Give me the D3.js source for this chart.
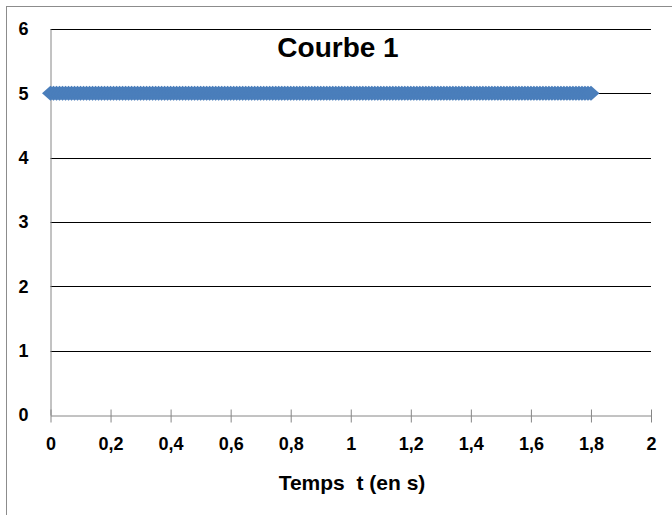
<!DOCTYPE html>
<meta charset="utf-8">
<head>
  <title>Courbe 1</title>
  <script src="https://d3js.org/d3.v7.min.js"></script>
  <style>
    body { margin: 0; background: #fff; }
    text { font-family: "Liberation Sans", Arial, sans-serif; font-weight: bold; fill: #000; }
  </style>
</head>
<body>
<div id="display"></div>
<script>

// time values (s)
var times = [
  0, 0.01, 0.02, 0.03, 0.04, 0.05, 0.06, 0.07, 0.08, 0.09,
  0.1, 0.11, 0.12, 0.13, 0.14, 0.15, 0.16, 0.17, 0.18, 0.19,
  0.2, 0.21, 0.22, 0.23, 0.24, 0.25, 0.26, 0.27, 0.28, 0.29,
  0.3, 0.31, 0.32, 0.33, 0.34, 0.35, 0.36, 0.37, 0.38, 0.39,
  0.4, 0.41, 0.42, 0.43, 0.44, 0.45, 0.46, 0.47, 0.48, 0.49,
  0.5, 0.51, 0.52, 0.53, 0.54, 0.55, 0.56, 0.57, 0.58, 0.59,
  0.6, 0.61, 0.62, 0.63, 0.64, 0.65, 0.66, 0.67, 0.68, 0.69,
  0.7, 0.71, 0.72, 0.73, 0.74, 0.75, 0.76, 0.77, 0.78, 0.79,
  0.8, 0.81, 0.82, 0.83, 0.84, 0.85, 0.86, 0.87, 0.88, 0.89,
  0.9, 0.91, 0.92, 0.93, 0.94, 0.95, 0.96, 0.97, 0.98, 0.99,
  1, 1.01, 1.02, 1.03, 1.04, 1.05, 1.06, 1.07, 1.08, 1.09,
  1.1, 1.11, 1.12, 1.13, 1.14, 1.15, 1.16, 1.17, 1.18, 1.19,
  1.2, 1.21, 1.22, 1.23, 1.24, 1.25, 1.26, 1.27, 1.28, 1.29,
  1.3, 1.31, 1.32, 1.33, 1.34, 1.35, 1.36, 1.37, 1.38, 1.39,
  1.4, 1.41, 1.42, 1.43, 1.44, 1.45, 1.46, 1.47, 1.48, 1.49,
  1.5, 1.51, 1.52, 1.53, 1.54, 1.55, 1.56, 1.57, 1.58, 1.59,
  1.6, 1.61, 1.62, 1.63, 1.64, 1.65, 1.66, 1.67, 1.68, 1.69,
  1.7, 1.71, 1.72, 1.73, 1.74, 1.75, 1.76, 1.77, 1.78, 1.79,
  1.8
];

// signal values
var values = [
  5, 5, 5, 5, 5, 5, 5, 5, 5, 5,
  5, 5, 5, 5, 5, 5, 5, 5, 5, 5,
  5, 5, 5, 5, 5, 5, 5, 5, 5, 5,
  5, 5, 5, 5, 5, 5, 5, 5, 5, 5,
  5, 5, 5, 5, 5, 5, 5, 5, 5, 5,
  5, 5, 5, 5, 5, 5, 5, 5, 5, 5,
  5, 5, 5, 5, 5, 5, 5, 5, 5, 5,
  5, 5, 5, 5, 5, 5, 5, 5, 5, 5,
  5, 5, 5, 5, 5, 5, 5, 5, 5, 5,
  5, 5, 5, 5, 5, 5, 5, 5, 5, 5,
  5, 5, 5, 5, 5, 5, 5, 5, 5, 5,
  5, 5, 5, 5, 5, 5, 5, 5, 5, 5,
  5, 5, 5, 5, 5, 5, 5, 5, 5, 5,
  5, 5, 5, 5, 5, 5, 5, 5, 5, 5,
  5, 5, 5, 5, 5, 5, 5, 5, 5, 5,
  5, 5, 5, 5, 5, 5, 5, 5, 5, 5,
  5, 5, 5, 5, 5, 5, 5, 5, 5, 5,
  5, 5, 5, 5, 5, 5, 5, 5, 5, 5,
  5
];

var xTicks = [0, 0.2, 0.4, 0.6, 0.8, 1, 1.2, 1.4, 1.6, 1.8, 2];
var yTicks = [0, 1, 2, 3, 4, 5, 6];

var title = "Courbe 1";
var xTitle = "Temps  t (en s)";

var W = 672, H = 515;
var margin = {top: 29, right: 21, bottom: 100, left: 50.5};

var svg = d3.select("#display")
  .append("svg")
    .attr("width", W)
    .attr("height", H);

// outer frame (runs off the right and bottom edges)
svg.append("rect")
  .attr("x", 6.5).attr("y", 6.5)
  .attr("width", W).attr("height", H)
  .attr("fill", "none")
  .attr("stroke", "#8c8c8c");

var x = d3.scaleLinear().domain([0, 2]).range([margin.left, W - margin.right]);
var y = d3.scaleLinear().domain([0, 6]).range([415, margin.top]);

// gridlines
svg.append("g")
  .selectAll("line")
  .data(yTicks.filter(function(d) { return d > 0; }))
  .enter().append("line")
    .attr("x1", x(0)).attr("x2", x(2))
    .attr("y1", function(d) { return Math.round(y(d)) + 0.5; })
    .attr("y2", function(d) { return Math.round(y(d)) + 0.5; })
    .attr("stroke", "#000");

// y axis
var yAxis = svg.append("g")
  .attr("transform", "translate(" + x(0) + ",0)")
  .call(d3.axisLeft(y).tickValues(yTicks).tickSize(0).tickPadding(22).tickFormat(d3.format("d")));
yAxis.select(".domain").attr("stroke", "#868686");
yAxis.selectAll("text").style("font-size", "18px").attr("fill", "#000");

// x axis
var xAxis = svg.append("g")
  .attr("transform", "translate(0," + (Math.round(y(0)) + 0.5) + ")")
  .call(d3.axisBottom(x).tickValues(xTicks).tickSizeOuter(0).tickSizeInner(7).tickPadding(15)
    .tickFormat(function(d) { return String(d).replace(".", ","); }));
xAxis.select(".domain").attr("stroke", "#868686");
xAxis.selectAll(".tick line").attr("stroke", "#868686").attr("y1", -6);
xAxis.selectAll("text").style("font-size", "18px").attr("fill", "#000");

// markers (diamonds)
var hw = 8.5, hh = 7.5;
svg.append("g")
  .selectAll("path")
  .data(times.map(function(t, i) { return {t: t, v: values[i]}; }))
  .enter().append("path")
    .attr("d", function(d) {
      var cx = x(d.t), cy = y(d.v);
      return "M" + (cx - hw) + "," + cy + "L" + cx + "," + (cy - hh) +
             "L" + (cx + hw) + "," + cy + "L" + cx + "," + (cy + hh) + "Z";
    })
    .attr("fill", "#4a7ebb");

// title
svg.append("text")
  .attr("x", 338).attr("y", 57)
  .attr("text-anchor", "middle")
  .style("font-size", "28px")
  .text(title);

// x title
svg.append("text")
  .attr("x", 352).attr("y", 490)
  .attr("text-anchor", "middle")
  .style("font-size", "21px")
  .style("white-space", "pre")
  .text(xTitle);

</script>
</body>
